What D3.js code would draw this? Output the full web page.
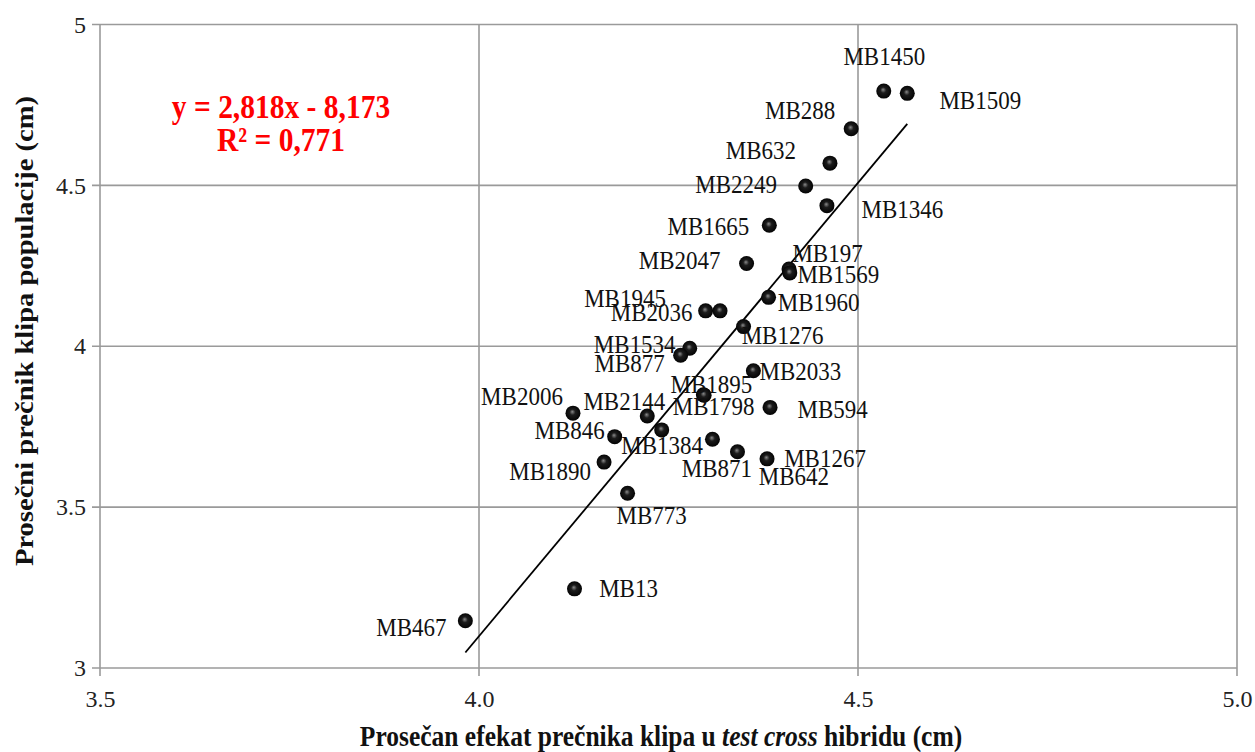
<!DOCTYPE html>
<html>
<head>
<meta charset="utf-8">
<script src="https://cdn.jsdelivr.net/npm/d3@7"></script>
<style>
  html, body { margin: 0; padding: 0; background: #fff; }
  svg { display: block; }
  svg text { font-family: "Liberation Serif", "Times New Roman", serif; }
</style>
</head>
<body>
<svg id="chart" width="1255" height="752"></svg>
<script>
// Hybrid names
const lines = ["MB1450","MB1509","MB288","MB632","MB2249","MB1346","MB1665","MB2047",
  "MB197","MB1569","MB2036","MB1945","MB1960","MB1276","MB1534","MB877","MB2033",
  "MB1895","MB1798","MB594","MB2006","MB2144","MB846","MB1384","MB871","MB642",
  "MB1267","MB1890","MB773","MB13","MB467"];
// Average ear diameter effect in test cross hybrids (cm)
const testCross = [4.534,4.565,4.491,4.463,4.431,4.459,4.383,4.353,
  4.409,4.410,4.299,4.318,4.382,4.349,4.278,4.266,4.362,
  4.296,4.297,4.384,4.124,4.222,4.179,4.241,4.308,4.341,
  4.380,4.165,4.196,4.126,3.982];
// Average ear diameter of the population (cm)
const population = [4.793,4.786,4.676,4.569,4.498,4.437,4.376,4.257,
  4.240,4.228,4.110,4.110,4.152,4.061,3.994,3.972,3.924,
  3.849,3.848,3.810,3.792,3.783,3.719,3.740,3.711,3.672,
  3.650,3.640,3.543,3.246,3.147];
// Regression line coefficients
const slope = 2.818, intercept = -8.173, r2 = 0.771;
// Axis ticks
const xTicks = [3.5, 4.0, 4.5, 5.0];
const yTicks = [3, 3.5, 4, 4.5, 5];

// Label placement relative to each point (pixels)
const labelShift = [[0.5,-35],[73,7],[-51,-19],[-69,-13],[-69.5,-2],[75.5,3],[-61,1],[-67,-3.5],
  [38.5,-16],[48.5,1],[-54,1],[-95,-12.5],[50,4.5],[39,8.5],[-55,-4],[-51,7.5],[47,0.5],
  [8,-10.5],[9.5,10.5],[62.5,1.5],[-51,-17],[-23,-15],[-45,-7],[0.5,15],[4.5,28.7],[56.5,24.3],
  [58,-1],[-54,9],[24,21.5],[54,-1],[-54,6]];

const svg = d3.select("#chart");
const plotL = 100, plotR = 1237, plotT = 24.5, plotB = 668;
const x = d3.scaleLinear().domain([3.5, 5.0]).range([plotL, plotR]);
const y = d3.scaleLinear().domain([3, 5]).range([plotB, plotT]);
const fmt = d3.format(".1f");
const gridColor = "#9a9a9a";
const serif = '"Liberation Serif", "Times New Roman", serif';
const tall = 1.12;   // glyphs are drawn slightly taller than wide

// Grid
svg.append("g").selectAll("line").data(yTicks).join("line")
  .attr("x1", plotL - 8).attr("x2", plotR)
  .attr("y1", d => y(d)).attr("y2", d => y(d))
  .attr("stroke", gridColor).attr("stroke-width", 1.6);
svg.append("g").selectAll("line").data(xTicks).join("line")
  .attr("x1", d => x(d)).attr("x2", d => x(d))
  .attr("y1", plotT).attr("y2", plotB + 8)
  .attr("stroke", gridColor).attr("stroke-width", 1.6);

// Axes (labels only; lines drawn by the grid)
const xAxis = svg.append("g").attr("transform", `translate(0,${plotB})`)
  .call(d3.axisBottom(x).tickValues(xTicks).tickFormat(fmt).tickSize(0).tickPadding(22));
const yAxis = svg.append("g").attr("transform", `translate(${plotL},0)`)
  .call(d3.axisLeft(y).tickValues(yTicks).tickFormat(d => String(d)).tickSize(0).tickPadding(14));
[xAxis, yAxis].forEach(g => {
  g.attr("font-family", null).attr("font-size", null);
  g.select(".domain").remove();
  g.selectAll("text").style("font-family", serif)
    .style("font-size", "24px").attr("fill", "#222");
});

// Point shading
const grad = svg.append("defs").append("radialGradient")
  .attr("id", "ball").attr("cx", "50%").attr("cy", "50%").attr("r", "55%")
  .attr("fx", "45%").attr("fy", "40%");
grad.append("stop").attr("offset", "0%").attr("stop-color", "#8a8a8a");
grad.append("stop").attr("offset", "35%").attr("stop-color", "#1c1c1c");
grad.append("stop").attr("offset", "100%").attr("stop-color", "#000");

// Regression line over the range of the data
const xr = d3.extent(testCross);
svg.append("line")
  .attr("x1", x(xr[0])).attr("y1", y(slope * xr[0] + intercept))
  .attr("x2", x(xr[1])).attr("y2", y(slope * xr[1] + intercept))
  .attr("stroke", "#000").attr("stroke-width", 1.8);

const pts = lines.map((n, i) => ({ name: n, tx: testCross[i], pop: population[i], s: labelShift[i] }));

svg.append("g").selectAll("circle").data(pts).join("circle")
  .attr("cx", d => x(d.tx)).attr("cy", d => y(d.pop)).attr("r", 7.5)
  .attr("fill", "url(#ball)");

svg.append("g").selectAll("text").data(pts).join("text")
  .attr("transform", d => `translate(${x(d.tx) + d.s[0]},${y(d.pop) + d.s[1]}) scale(1,${tall})`)
  .attr("text-anchor", "middle").attr("dominant-baseline", "central")
  .style("font-size", "23px").attr("fill", "#111")
  .text(d => d.name);

// Equation
const fmt3 = v => d3.format(".3f")(v).replace(".", ",");
const eq = svg.append("g").attr("transform", `translate(281,0) scale(1,${tall})`);
eq.append("text").attr("y", 118 / tall).attr("text-anchor", "middle")
  .style("font-weight", "bold").style("font-size", "29.5px").attr("fill", "#ff0000")
  .text(`y = ${fmt3(slope)}x - ${fmt3(-intercept)}`);
eq.append("text").attr("y", 151 / tall).attr("text-anchor", "middle")
  .style("font-weight", "bold").style("font-size", "29.5px").attr("fill", "#ff0000")
  .text(`R² = ${fmt3(r2)}`);

// Axis titles
const xt = svg.append("text")
  .attr("transform", `translate(661,746) scale(1,${tall})`).attr("text-anchor", "middle")
  .style("font-weight", "bold").style("font-size", "25.5px").attr("fill", "#111");
xt.append("tspan").text("Prosečan efekat prečnika klipa u ");
xt.append("tspan").style("font-style", "italic").text("test cross");
xt.append("tspan").text(" hibridu (cm)");

svg.append("text")
  .attr("transform", `translate(33,331) rotate(-90) scale(${tall},1)`)
  .attr("text-anchor", "middle")
  .style("font-weight", "bold").style("font-size", "25.5px").attr("fill", "#111")
  .text("Prosečni prečnik klipa populacije (cm)");
</script>
</body>
</html>
